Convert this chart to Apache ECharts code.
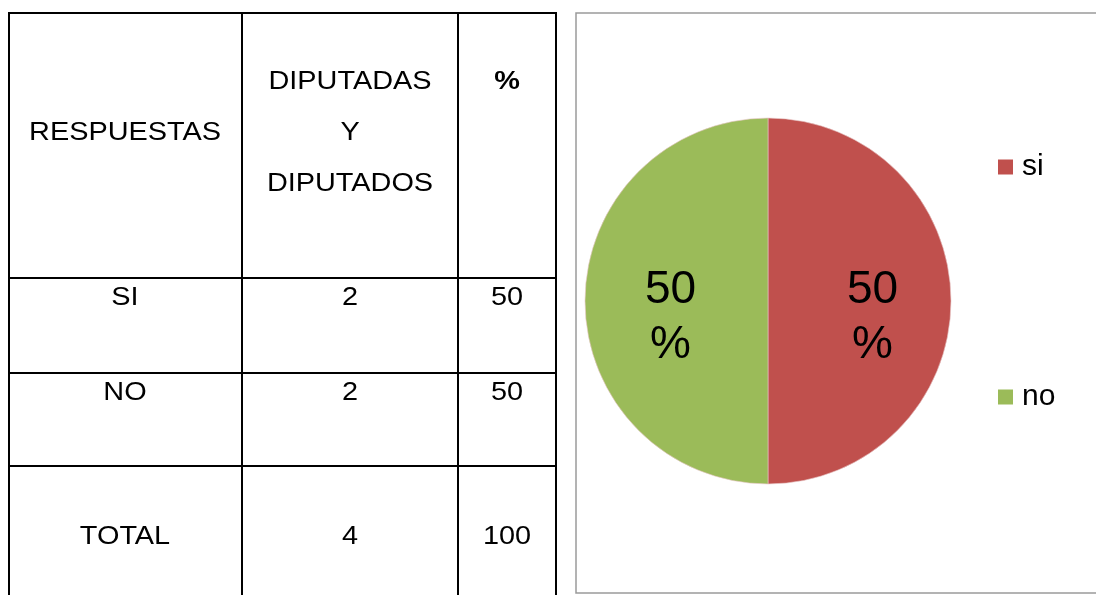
<!DOCTYPE html>
<html>
<head>
<meta charset="utf-8">
<style>
  html, body { margin: 0; padding: 0; background: #fff; }
  #chart { width: 1096px; height: 595px; }
</style>
<script src="https://cdn.jsdelivr.net/npm/echarts@6/dist/echarts.min.js"></script>
</head>
<body>
<div id="chart"></div>
<script>
// ---- data ----
const pieCategories = ['si', 'no'];
const pieValues = [2, 2];
const pieColors = ['#C0504D', '#9BBB59'];

const headerRespuestas = 'RESPUESTAS';
const headerDiputados = ['DIPUTADAS', 'Y', 'DIPUTADOS'];
const headerPercent = '%';
const rowLabels = ['SI', 'NO', 'TOTAL'];
const rowCounts = [2, 2, 4];
const rowPercents = [50, 50, 100];

// ---- table layout ----
const FONT = "'Liberation Sans', Arial, sans-serif";
const colX = [9, 242, 458, 556];
const rowY = [13, 278, 373, 466, 600];
const colCenters = [125, 350, 507];
const rowTextY = [298, 393, 537];
const SX = 1.11;

const graphics = [];
for (let i = 0; i < rowY.length - 1; i++) {
  graphics.push({ type: 'line', shape: { x1: colX[0], y1: rowY[i], x2: colX[3], y2: rowY[i] },
    style: { stroke: '#000', lineWidth: 2 } });
}
for (let j = 0; j < colX.length; j++) {
  graphics.push({ type: 'line', shape: { x1: colX[j], y1: rowY[0] - 1, x2: colX[j], y2: 600 },
    style: { stroke: '#000', lineWidth: 2 } });
}
function txt(s, x, y, bold) {
  graphics.push({ type: 'text', x: x, y: y, scaleX: SX,
    style: { text: String(s), fill: '#000', font: (bold ? 'bold ' : '') + '26px ' + FONT,
      textAlign: 'center', textVerticalAlign: 'middle' } });
}
txt(headerRespuestas, colCenters[0], 133);
headerDiputados.forEach((s, i) => txt(s, colCenters[1], 82 + i * 51));
txt(headerPercent, colCenters[2], 82, true);
rowLabels.forEach((s, i) => {
  txt(s, colCenters[0], rowTextY[i]);
  txt(rowCounts[i], colCenters[1], rowTextY[i]);
  txt(rowPercents[i], colCenters[2], rowTextY[i]);
});
graphics.push({ type: 'rect', shape: { x: 576, y: 13, width: 530, height: 580 },
  style: { fill: 'none', stroke: '#9a9a9a', lineWidth: 1.5 }, z: -1 });

const legendBase = {
  orient: 'vertical', icon: 'rect', itemWidth: 15, itemHeight: 15, itemGap: 0,
  itemStyle: { borderWidth: 0 },
  textStyle: { fontSize: 30, fontFamily: FONT, color: '#000', padding: [0, 0, 0, 4] }
};

const chart = echarts.init(document.getElementById('chart'), null, { renderer: 'canvas' });
chart.setOption({
  animation: false,
  graphic: graphics,
  color: pieColors,
  legend: [
    Object.assign({}, legendBase, { data: [pieCategories[0]], left: 993, top: 147 }),
    Object.assign({}, legendBase, { data: [pieCategories[1]], left: 993, top: 377 })
  ],
  series: [{
    type: 'pie',
    center: [768, 301],
    radius: 183,
    startAngle: 90,
    clockwise: true,
    silent: true,
    itemStyle: { borderColor: '#e8c8c8', borderWidth: 0.6 },
    label: {
      show: true,
      position: 'inside',
      formatter: p => p.percent + '\n%',
      fontSize: 46,
      lineHeight: 55,
      fontFamily: FONT,
      color: '#000'
    },
    labelLayout: function (params) {
      return { dx: params.dataIndex === 0 ? 10 : -3, dy: 17 };
    },
    data: pieCategories.map((c, i) => ({ name: c, value: pieValues[i] }))
  }]
});
</script>
</body>
</html>
